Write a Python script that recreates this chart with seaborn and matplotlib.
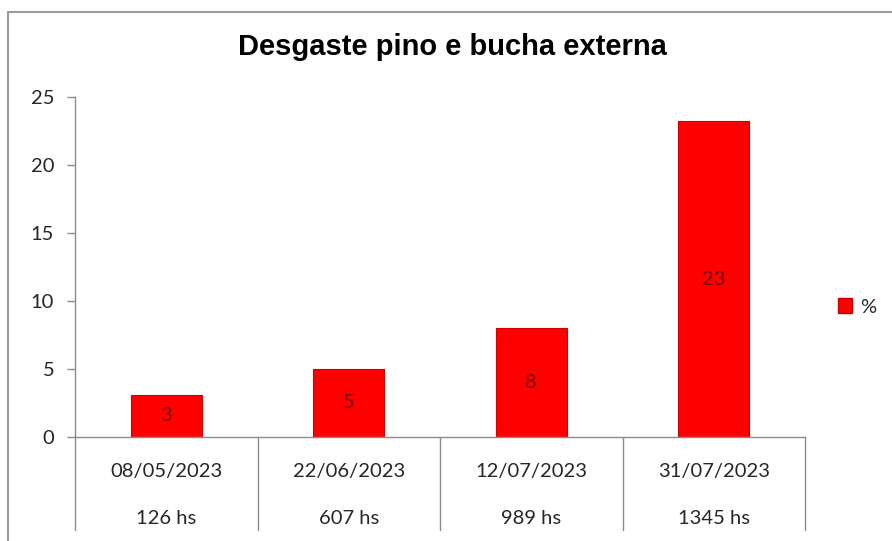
import matplotlib
matplotlib.use("Agg")
import matplotlib.pyplot as plt
import matplotlib.transforms as mtransforms
from matplotlib.lines import Line2D
from matplotlib.patches import Patch
import seaborn as sns
import pandas as pd

# ---- data ----
dates = ["08/05/2023", "22/06/2023", "12/07/2023", "31/07/2023"]
hours = ["126 hs", "607 hs", "989 hs", "1345 hs"]
values = [3.1, 5.0, 8.0, 23.2]
value_labels = ["3", "5", "8", "23"]
yticks = [0, 5, 10, 15, 20, 25]
title = "Desgaste pino e bucha externa"
series_name = "%"

sns.set_theme(style="white")
plt.rcParams['font.family'] = ['Lato', 'DejaVu Sans']

FS = 14.5
TXT = "#262626"

df = pd.DataFrame({"date": dates, "value": values})

fig = plt.figure(figsize=(8.92, 5.41), dpi=100)
ax = fig.add_axes([75/892, 1-437/541, (805-75)/892, (437-97)/541])

sns.barplot(data=df, x="date", y="value", color="#FF0000", saturation=1,
            width=0.39, edgecolor="#D00000", linewidth=0.8, ax=ax)

ax.set_xlim(-0.5, len(dates)-0.5)
ax.set_ylim(0, 25)
ax.set_yticks(yticks)
ax.set_yticklabels([str(t) for t in yticks], fontsize=FS, color=TXT)
ax.set_xticks([])
ax.set_xlabel("")
ax.set_ylabel("")

for s in ["top", "right"]:
    ax.spines[s].set_visible(False)
for s in ["left", "bottom"]:
    ax.spines[s].set_color("#8c8c8c")
    ax.spines[s].set_linewidth(1.0)
ax.tick_params(axis="y", left=True, length=6, width=1, color="#8c8c8c", pad=9)

# value labels inside bars
for i, (v, lab) in enumerate(zip(values, value_labels)):
    ax.text(i, v/2, lab, ha="center", va="center", fontsize=FS, color="#7a0000")

# multi-level category axis
trans = mtransforms.blended_transform_factory(ax.transData, ax.transAxes)
for xb in [i - 0.5 for i in range(len(dates)+1)]:
    ax.add_line(Line2D([xb, xb], [0, -93/340], transform=trans, color="#8c8c8c",
                       linewidth=1.0, clip_on=False))
for i, (d, h) in enumerate(zip(dates, hours)):
    ax.text(i, -35/340, d, transform=trans, ha="center", va="center",
            fontsize=FS, color=TXT)
    ax.text(i, -82/340, h, transform=trans, ha="center", va="center",
            fontsize=FS, color=TXT)

# title
fig.text(452/892, 1-47/541, title, ha="center", va="center", fontsize=21,
         fontweight="bold", family=["Liberation Sans", "DejaVu Sans"], color="#000000")

# legend
fig.legend(handles=[Patch(facecolor="#FF0000", edgecolor="#D00000", label=series_name)],
           loc="center left", bbox_to_anchor=(838/892, 1-307/541), frameon=False,
           fontsize=FS, handlelength=0.7, handleheight=0.7, handletextpad=0.4,
           borderpad=0, borderaxespad=0)

# chart border (partially cropped)
fig.add_artist(Line2D([8/892, 8/892], [0, 1-12/541], transform=fig.transFigure,
                      color="#9a9a9a", linewidth=1.5))
fig.add_artist(Line2D([8/892, 1], [1-12/541, 1-12/541], transform=fig.transFigure,
                      color="#9a9a9a", linewidth=1.5))

fig.savefig("out.png", dpi=100)
